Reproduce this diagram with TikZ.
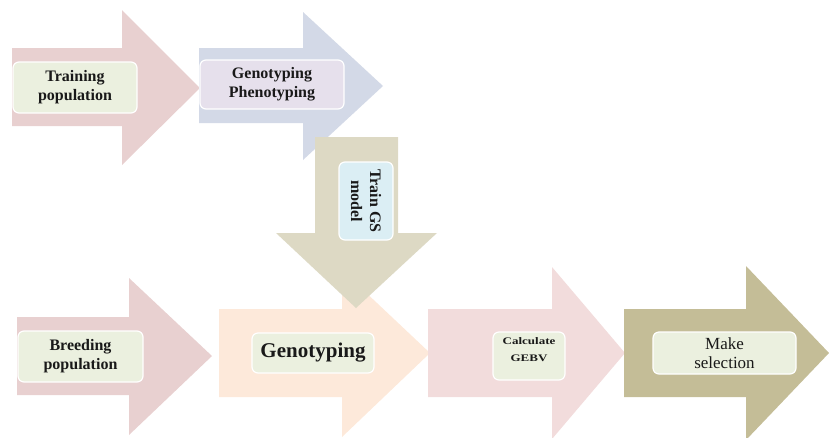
\documentclass[tikz,border=0pt]{standalone}
\usepackage{fontspec}
\setmainfont{Liberation Serif}
\definecolor{apink}{HTML}{E8D0D0}
\definecolor{ablue}{HTML}{D3D9E7}
\definecolor{atan}{HTML}{DDD9C4}
\definecolor{apeach}{HTML}{FDE9DA}
\definecolor{arose}{HTML}{F2DCDC}
\definecolor{aolive}{HTML}{C4BD97}
\definecolor{bgreen}{HTML}{EBF0DF}
\definecolor{blav}{HTML}{E6E0EC}
\definecolor{bsky}{HTML}{DBEEF4}
\tikzset{
  lbl/.style={draw=white, line width=1.2pt, rounded corners=6pt, align=center,
    inner sep=2pt, font=\fontsize{16}{19}\selectfont\bfseries, text=black!90},
}
\begin{document}
\begin{tikzpicture}[x=1pt,y=-1pt]
\useasboundingbox (0,0) rectangle (829,437);
% top row arrows
\fill[apink] (12,48) -- (122,48) -- (122,10) -- (200,88) -- (122,165) -- (122,126) -- (12,126) -- cycle;
\fill[ablue] (199,48) -- (303,48) -- (303,12) -- (383,86) -- (303,160) -- (303,123) -- (199,123) -- cycle;
% bottom row arrows
\fill[apink] (17,317) -- (129,317) -- (129,278) -- (212,356) -- (129,435) -- (129,395) -- (17,395) -- cycle;
\fill[apeach] (219,309) -- (342,309) -- (342,270) -- (430,353) -- (342,437) -- (342,397) -- (219,397) -- cycle;
\fill[arose] (428,309) -- (552,309) -- (552,267) -- (625,353) -- (552,439) -- (552,397) -- (428,397) -- cycle;
\fill[aolive] (624,309) -- (746,309) -- (746,266) -- (829,353) -- (746,440) -- (746,397) -- (624,397) -- cycle;
% down arrow
\fill[atan] (315,137) -- (398,137) -- (398,233) -- (437,233) -- (356,308) -- (276,233) -- (315,233) -- cycle;
% labels
\node[lbl, fill=bgreen, minimum width=124pt, minimum height=51pt] (tp) at (75,87.5) {Training\\population};
\node[lbl, fill=blav, minimum width=144pt, minimum height=49pt] (gp) at (272,84.5) {Genotyping\\Phenotyping};
\node[lbl, fill=bsky, minimum width=78pt, minimum height=54pt, rotate=-90] (tgs) at (366,201) {Train GS\\model};
\node[lbl, fill=bgreen, minimum width=125pt, minimum height=51pt] (bp) at (80.5,356.5) {Breeding\\population};
\node[lbl, fill=bgreen, minimum width=122pt, minimum height=40pt, font=\fontsize{21}{24}\selectfont\bfseries] (gt) at (313,353) {Genotyping};
\node[lbl, fill=bgreen, minimum width=72pt, minimum height=48pt, font=\fontsize{10}{17}\selectfont\bfseries] (cg) at (529,356) {\scalebox{1.3}[1]{Calculate}\\\scalebox{1.3}[1]{GEBV}\\[-4pt]};
\node[lbl, fill=bgreen, minimum width=143pt, minimum height=42pt, font=\fontsize{17}{19}\selectfont] (ms) at (724.5,353) {Make\\selection};
\end{tikzpicture}
\end{document}
